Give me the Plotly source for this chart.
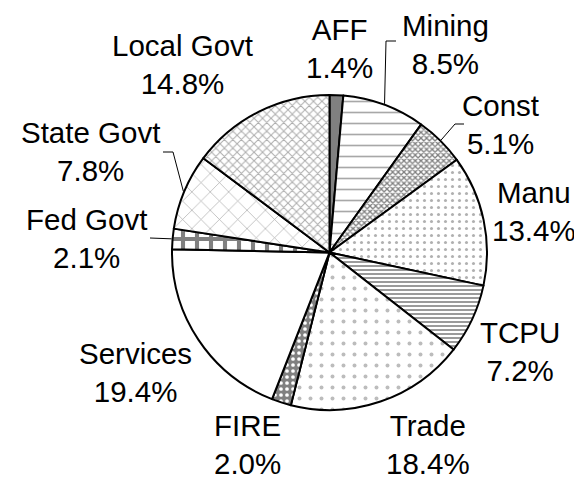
import math
import plotly.graph_objects as go

labels = ["AFF", "Mining", "Const", "Manu", "TCPU", "Trade", "FIRE",
          "Services", "Fed Govt", "State Govt", "Local Govt"]
shares = [1.4, 8.5, 5.1, 13.4, 7.2, 18.4, 2.0, 19.4, 2.1, 7.8, 14.8]

# ---- slice styles -------------------------------------------------------
shapes = ["", "-", "x", ".", "-", ".", ".", "", "+", "x", "x"]
fgcolors = ["#808080", "#a8a8a8", "#808080", "#b0b0b0", "#909090", "#bcbcbc",
            "#ffffff", "#ffffff", "#808080", "#a8a8a8", "#acacac"]
bgcolors = ["#808080", "#ffffff", "#ffffff", "#ffffff", "#ffffff", "#ffffff",
            "#808080", "#ffffff", "#ffffff", "#ffffff", "#ffffff"]
sizes = [8, 11, 4, 7, 4, 11, 6, 8, 14, 13, 6]
solidity = [0.3, 0.15, 0.55, 0.15, 0.45, 0.1, 0.3, 0.3, 0.5, 0.1, 0.3]

# ---- layout (pixels in the 582x481 page) --------------------------------
W, H = 582, 481
OFF = 8                       # default body margin of the page
PIE_L, PIE_R, PIE_T, PIE_B = 172, 487, 95, 410
CX, CY = (PIE_L + PIE_R) / 2, (PIE_T + PIE_B) / 2
R = (PIE_R - PIE_L) / 2
FONT = "Liberation Sans, Arial"
FSIZE = 29.5

# label block centres (page pixels)
label_pos = {
    "AFF": (339, 49), "Mining": (445, 44), "Const": (500, 124),
    "Manu": (534, 211), "TCPU": (520, 351), "Trade": (428, 444),
    "FIRE": (247, 444), "Services": (135, 372), "Fed Govt": (86, 238),
    "State Govt": (90, 151), "Local Govt": (182, 65),
}
# leader line elbows (page pixels) for labels set away from their slice
leader_pts = {
    "Mining": [(386, 41), (396, 41)],
    "Const": [(455, 124), (464, 124)],
    "State Govt": [(173, 152), (163, 152)],
    "Fed Govt": [(150, 238)],
}


def px(x):
    return (x - OFF) / W


def py(y):
    return 1 - (y - OFF) / H


fig = go.Figure(go.Pie(
    labels=labels,
    values=shares,
    textinfo="none",
    automargin=False,
    sort=False,
    direction="clockwise",
    rotation=0,
    showlegend=False,
    hoverinfo="label+value",
    marker=dict(
        colors=bgcolors,
        line=dict(color="black", width=2),
        pattern=dict(shape=shapes, fgcolor=fgcolors, bgcolor=bgcolors,
                     size=sizes, solidity=solidity, fillmode="replace"),
    ),
    domain=dict(x=[px(PIE_L), px(PIE_R)], y=[py(PIE_B), py(PIE_T)]),
))

total = sum(shares)
cum = 0.0
annotations = []
shape_list = []
for lab, v in zip(labels, shares):
    mid = (cum + v / 2) / total * 2 * math.pi
    cum += v
    lx, ly = label_pos[lab]
    annotations.append(dict(
        x=px(lx), y=py(ly), xref="paper", yref="paper",
        text=f"{lab}<br>{v:.1f}%", showarrow=False,
        xanchor="center", yanchor="middle", align="center",
        borderpad=0,
        font=dict(family=FONT, size=FSIZE, color="black"),
    ))
    if lab in leader_pts:
        sx = CX + (R + 1) * math.sin(mid)
        sy = CY - (R + 1) * math.cos(mid)
        pts = [(sx, sy)] + leader_pts[lab]
        path = "M " + " L ".join(f"{px(a)},{py(b)}" for a, b in pts)
        shape_list.append(dict(type="path", path=path, xref="paper",
                               yref="paper",
                               line=dict(color="black", width=1)))

fig.update_layout(
    width=W, height=H,
    margin=dict(l=0, r=0, t=0, b=0, autoexpand=False),
    paper_bgcolor="white",
    plot_bgcolor="white",
    font=dict(family=FONT, size=FSIZE, color="black"),
    annotations=annotations,
    shapes=shape_list,
)

fig.write_html("out.html")
